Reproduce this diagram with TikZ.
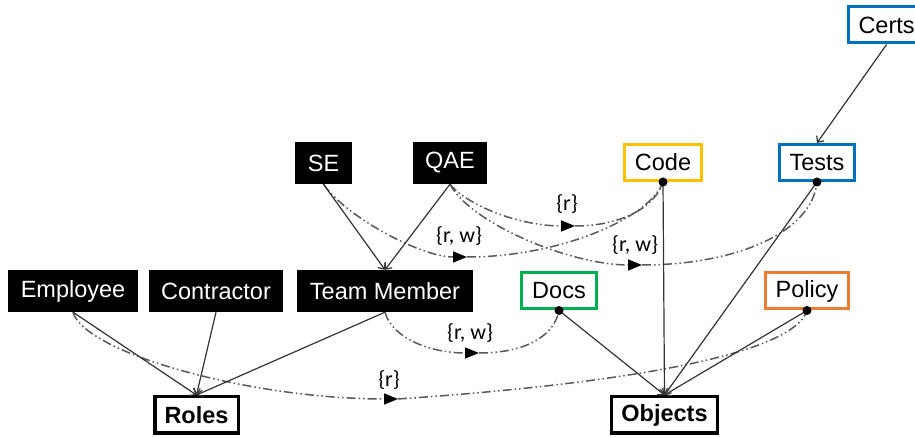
\documentclass[tikz,border=0pt]{standalone}
\usepackage{fontspec}
\setmainfont{Liberation Sans}
\newfontfamily\lblfont{Carlito}
\usetikzlibrary{arrows.meta}
\definecolor{codeyellow}{HTML}{FFC000}
\definecolor{testblue}{HTML}{0070C0}
\definecolor{docgreen}{HTML}{00B050}
\definecolor{policyorange}{HTML}{ED7D31}
\begin{document}
\begin{tikzpicture}[x=1pt,y=1pt,
  rolebox/.style={fill=black,text=white,inner xsep=12.5pt,inner ysep=0pt,
    minimum height=42pt,font=\fontsize{23.5}{28}\selectfont},
  objbox/.style={draw=#1,line width=3pt,fill=white,inner xsep=10.5pt,inner ysep=0pt,
    minimum height=36pt,font=\fontsize{23.5}{28}\selectfont},
  groupbox/.style={draw=black,line width=3.5pt,fill=white,inner xsep=9.75pt,inner ysep=0pt,
    minimum height=36.5pt,font=\fontsize{23.5}{28}\selectfont\bfseries},
  link/.style={draw=black!80,line width=1.2pt,-{Straight Barb[length=5pt,width=9pt]}},
  perm/.style={draw=black!65,line width=1.5pt,
    dash pattern=on 9pt off 3pt on 1.5pt off 3pt on 1.5pt off 3pt},
  permtip/.style={perm,-{Triangle[length=14pt,width=11pt,black]}},
  dot/.style={circle,fill=black,inner sep=0pt,minimum size=9pt},
  lbl/.style={font=\lblfont\fontsize{22}{26}\selectfont}]

\useasboundingbox (0,0) rectangle (915,438);
\clip (0,0) rectangle (915,438);

% subjects
\node[rolebox] (se)  at (323.5,275) {SE};
\node[rolebox] (qae) at (450,275) {QAE};
\node[rolebox] (emp) at (73,147) {Employee};
\node[rolebox] (con) at (216,147) {Contractor};
\node[rolebox] (tm)  at (385,147) {Team Member};

% objects
\node[objbox=codeyellow]   (code)   at (663,275.5) {Code};
\node[objbox=testblue]     (tests)  at (817,275.5) {Tests};
\node[objbox=testblue,anchor=west] (certs) at (846.5,413) {Certs};
\node[objbox=docgreen]     (docs)   at (559,147) {Docs};
\node[objbox=policyorange] (policy) at (807,147) {Policy};

% groups
\node[groupbox] (roles)   at (196.5,23) {Roles};
\node[groupbox] (objects) at (664.5,23) {Objects};

% arrow positions on the permission curves
\coordinate (t1) at (467,181);
\coordinate (t2) at (575,212);
\coordinate (t3) at (642,173);
\coordinate (t4) at (479,85);
\coordinate (t5) at (398,39);

% permission curves
\draw[permtip] (se.south) .. controls (345,222) and (420,181) .. (t1);
\draw[perm] (t1) .. controls (560,181) and (650,220) .. (code.south);
\draw[permtip] (qae.south) .. controls (468,232) and (520,212) .. (t2);
\draw[perm] (t2) .. controls (620,212) and (655,230) .. (code.south);
\draw[permtip] (qae.south) .. controls (470,215) and (570,173) .. (t3);
\draw[perm] (t3) .. controls (735,173) and (812,205) .. (tests.south);
\draw[permtip] (tm.south) .. controls (392,100) and (430,85) .. (t4);
\draw[perm] (t4) .. controls (530,85) and (555,105) .. (docs.south);
\draw[permtip] (emp.south) .. controls (85,85) and (250,39) .. (t5);
\draw[perm] (t5) .. controls (560,50) and (790,75) .. (policy.south);

% permission labels
\node[lbl] (l1) at (459,202) {\{r, w\}};
\node[lbl] (l2) at (567,234) {\{r\}};
\node[lbl] (l3) at (635,193) {\{r, w\}};
\node[lbl] (l4) at (470,105) {\{r, w\}};
\node[lbl] (l5) at (389,58) {\{r\}};

% hierarchy links
\draw[link] (se.south) -- (tm.north);
\draw[link] (qae.south) -- (tm.north);
\draw[link] (certs.south) -- (tests.north);
\draw[link] (emp.south) -- (roles.north);
\draw[link] (con.south) -- (roles.north);
\draw[link] (tm.south) -- (roles.north);
\draw[link] (docs.south) -- (objects.north);
\draw[link] (code.south) -- (objects.north);
\draw[link] (tests.south) -- (objects.north);
\draw[link] (policy.south) -- (objects.north);

% attachment dots
\node[dot] (codedot)   at (code.south) {};
\node[dot] (testsdot)  at (tests.south) {};
\node[dot] (docsdot)   at (docs.south) {};
\node[dot] (policydot) at (policy.south) {};
\end{tikzpicture}
\end{document}
